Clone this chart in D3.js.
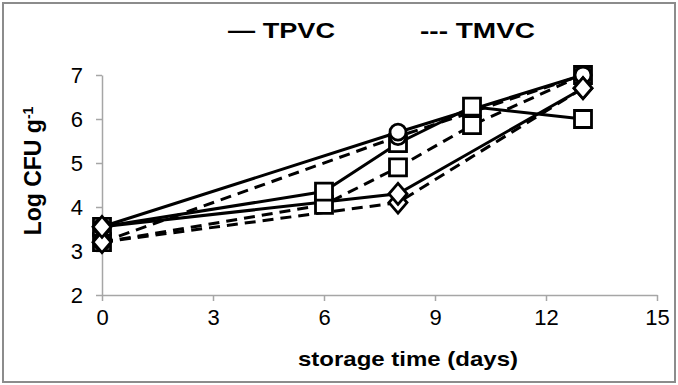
<!DOCTYPE html>
<html>
<head>
<meta charset="utf-8">
<script src="https://cdn.jsdelivr.net/npm/d3@7"></script>
<style>
  body { margin: 0; background: #fff; }
  text { font-family: "Liberation Sans", Arial, sans-serif; }
</style>
</head>
<body>
<div id="chart"></div>
<script>
// storage days sampled
const dayAll = [0, 6, 8, 10, 13];
const dayShort = [0, 8, 13];

// log CFU/g
const tpvcCircle = [3.55, 5.7, 7.0];
const tpvcSquare = [3.55, 4.35, 5.45, 6.28, 6.0];
const tpvcDiamond = [3.55, 4.3, 6.7];
const tmvcCircle = [3.2, 5.6, 7.0];
const tmvcSquare = [3.2, 4.05, 4.9, 5.86, 7.0];
const tmvcDiamond = [3.2, 4.1, 6.7];

const xTicks = [0, 3, 6, 9, 12, 15];
const yTicks = [2, 3, 4, 5, 6, 7];

const series = [
    { days: dayShort, vals: tmvcCircle, shape: "circle", dashed: true },
    { days: dayAll, vals: tmvcSquare, shape: "square", dashed: true },
    { days: dayShort, vals: tmvcDiamond, shape: "diamond", dashed: true },
    { days: dayShort, vals: tpvcCircle, shape: "circle", dashed: false },
    { days: dayAll, vals: tpvcSquare, shape: "square", dashed: false },
    { days: dayShort, vals: tpvcDiamond, shape: "diamond", dashed: false },
];

const W = 678, H = 385;
const svg = d3.select("#chart").append("svg")
    .attr("width", W)
    .attr("height", H);

// outer frame
svg.append("rect")
    .attr("x", 3).attr("y", 3)
    .attr("width", W - 6).attr("height", H - 6)
    .attr("fill", "#fff")
    .attr("stroke", "#8c8c8c")
    .attr("stroke-width", 2);

const x = d3.scaleLinear().domain([0, 15]).range([102, 657]);
const y = d3.scaleLinear().domain([2, 7]).range([295, 75]);

const axisColor = "#a6a6a6";

const xAxis = svg.append("g")
    .attr("transform", "translate(0," + y(2) + ")")
    .call(d3.axisBottom(x).tickValues(xTicks).tickSize(6).tickPadding(4).tickSizeOuter(0));
const yAxis = svg.append("g")
    .attr("transform", "translate(" + x(0) + ",0)")
    .call(d3.axisLeft(y).tickValues(yTicks).tickFormat(d3.format("d")).tickSize(6).tickPadding(13).tickSizeOuter(0));

[xAxis, yAxis].forEach(g => {
    g.select(".domain").attr("stroke", axisColor).attr("stroke-width", 1.5);
    g.selectAll(".tick line").attr("stroke", axisColor).attr("stroke-width", 1.5);
    g.selectAll(".tick text")
        .attr("fill", "#000")
        .style("font-size", "22px")
        .style("font-family", "'Liberation Sans', Arial, sans-serif");
});
xAxis.selectAll(".tick text").attr("dy", "0.9em");

// lines
const line = d3.line()
    .x(d => x(d[0]))
    .y(d => y(d[1]));

series.forEach(s => {
    const pts = s.days.map((d, i) => [d, s.vals[i]]);
    svg.append("path")
        .datum(pts)
        .attr("d", line)
        .attr("fill", "none")
        .attr("stroke", "#000")
        .attr("stroke-width", 3)
        .attr("stroke-dasharray", s.dashed ? "11,7" : null);
});

// markers: squares underneath, then circles, diamonds on top
const markerPath = {
    circle: "M8,0A8,8 0 1,1 -8,0A8,8 0 1,1 8,0Z",
    square: "M-8.5,-8.5H8.5V8.5H-8.5Z",
    diamond: "M0,-10.5L9,0L0,10.5L-9,0Z",
};

["square", "circle", "diamond"].forEach(shape => {
    series.filter(s => s.shape === shape).forEach(s => {
        svg.selectAll(null)
            .data(s.days.map((d, i) => [d, s.vals[i]]))
            .enter()
            .append("path")
            .attr("d", markerPath[shape])
            .attr("transform", d => "translate(" + x(d[0]) + "," + y(d[1]) + ")")
            .attr("fill", "#fff")
            .attr("stroke", "#000")
            .attr("stroke-width", 2.8);
    });
});

// axis titles
svg.append("text")
    .attr("x", 298).attr("y", 366)
    .attr("textLength", 220)
    .attr("lengthAdjust", "spacingAndGlyphs")
    .style("font-size", "21px")
    .style("font-weight", "bold")
    .text("storage time (days)");

const yLab = svg.append("text")
    .attr("transform", "translate(41,171) rotate(-90)")
    .attr("text-anchor", "middle")
    .style("font-size", "23px")
    .style("font-weight", "bold");
yLab.append("tspan").text("Log CFU g");
yLab.append("tspan").attr("dy", "-0.55em").style("font-size", "14px").text("-1");

// legend (text only, as in the original)
svg.append("text")
    .attr("x", 228).attr("y", 38)
    .attr("textLength", 107)
    .attr("lengthAdjust", "spacingAndGlyphs")
    .style("font-size", "22px")
    .style("font-weight", "bold")
    .text("\u2014 TPVC");
svg.append("text")
    .attr("x", 420).attr("y", 38)
    .attr("textLength", 115)
    .attr("lengthAdjust", "spacingAndGlyphs")
    .style("font-size", "22px")
    .style("font-weight", "bold")
    .text("--- TMVC");
</script>
</body>
</html>
